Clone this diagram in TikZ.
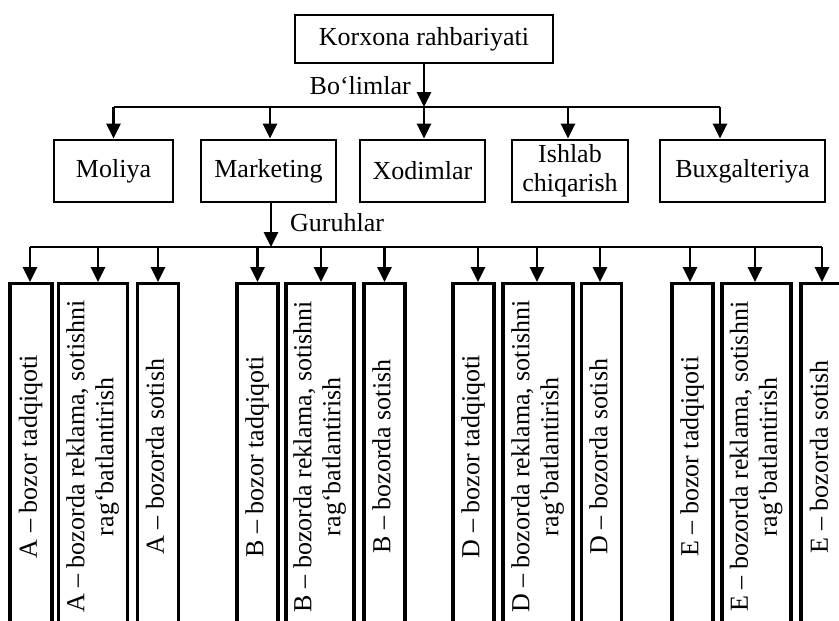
\documentclass[tikz,border=0pt]{standalone}
\usepackage{fontspec}
\setmainfont{Liberation Serif}
\usetikzlibrary{arrows.meta,calc}
\newcommand{\vtext}[1]{\rotatebox{90}{\begin{tabular}{@{}c@{}}#1\end{tabular}}}
\begin{document}
\begin{tikzpicture}[x=1pt,y=-1pt,
  every node/.style={font=\fontsize{26}{29}\selectfont},
  box/.style={draw, line width=2.8pt, inner sep=0pt, align=center, minimum height=62},
  gbox/.style={draw, line width=3.2pt, inner sep=0pt, anchor=north, minimum height=346},
  arr/.style={line width=2.8pt, -{Triangle[length=15pt,width=14pt]}},
  bar/.style={line width=2.8pt},
  lbl/.style={inner sep=0pt}]
\useasboundingbox (0,0) rectangle (839,621);
\clip (0,0) rectangle (839,621);

% top
\node[box, minimum width=258, minimum height=48] (top) at (424,39) {Korxona rahbariyati};
\node[lbl, anchor=east] (bol) at (411,86) {Bo‘limlar};

% departments
\node[box, minimum width=119] (mol) at (113.5,171) {Moliya};
\node[box, minimum width=135] (mkt) at (268.5,171) {Marketing};
\node[box, minimum width=125] (xod) at (422.5,171) {Xodimlar};
\node[box, minimum width=116] (ish) at (570,171) {Ishlab\\chiqarish};
\node[box, minimum width=165] (bux) at (742.5,171) {Buxgalteriya};

\coordinate (b1) at (113.5,107);
\coordinate (b2) at (270,107);
\coordinate (b3) at (424,107);
\coordinate (b4) at (568,107);
\coordinate (b5) at (720,107);

\draw[arr] (top.south) -- (b3);
\draw[bar] (b1) -- (b5);
\draw[arr] (b1) -- (b1 |- mol.north);
\draw[arr] (b2) -- (b2 |- mkt.north);
\draw[arr] (b3) -- (b3 |- xod.north);
\draw[arr] (b4) -- (b4 |- ish.north);
\draw[arr] (b5) -- (b5 |- bux.north);

% groups
\node[lbl, anchor=west] (gur) at (290,223) {Guruhlar};

\node[gbox, minimum width=42] (a1) at (31,282)    {\vtext{A – bozor tadqiqoti}};
\node[gbox, minimum width=69] (a2) at (93,282)    {\vtext{A – bozorda reklama, sotishni\\rag‘batlantirish}};
\node[gbox, minimum width=41] (a3) at (158,282)   {\vtext{A – bozorda sotish}};
\node[gbox, minimum width=41] (p1) at (257.5,282) {\vtext{B – bozor tadqiqoti}};
\node[gbox, minimum width=68] (p2) at (320,282)   {\vtext{B – bozorda reklama, sotishni\\rag‘batlantirish}};
\node[gbox, minimum width=41] (p3) at (384.5,282) {\vtext{B – bozorda sotish}};
\node[gbox, minimum width=41] (d1) at (473.5,282) {\vtext{D – bozor tadqiqoti}};
\node[gbox, minimum width=70] (d2) at (538,282)   {\vtext{D – bozorda reklama, sotishni\\rag‘batlantirish}};
\node[gbox, minimum width=40] (d3) at (601.5,282) {\vtext{D – bozorda sotish}};
\node[gbox, minimum width=41] (e1) at (692.5,282) {\vtext{E – bozor tadqiqoti}};
\node[gbox, minimum width=69] (e2) at (756.5,282) {\vtext{E – bozorda reklama, sotishni\\rag‘batlantirish}};
\node[gbox, minimum width=42] (e3) at (822,282)   {\vtext{E – bozorda sotish}};

\coordinate (g0) at (271,247);
\coordinate (ga1) at (30,247);
\coordinate (ga2) at (98,247);
\coordinate (ga3) at (158,247);
\coordinate (gp1) at (257.5,247);
\coordinate (gp2) at (321,247);
\coordinate (gp3) at (384.5,247);
\coordinate (gd1) at (478,247);
\coordinate (gd2) at (537,247);
\coordinate (gd3) at (600,247);
\coordinate (ge1) at (690,247);
\coordinate (ge2) at (755,247);
\coordinate (ge3) at (822,247);

\draw[arr] (mkt.south -| g0) -- (g0);
\draw[bar] (ga1) -- (ge3);
\foreach \g/\n in {ga1/a1,ga2/a2,ga3/a3,gp1/p1,gp2/p2,gp3/p3,gd1/d1,gd2/d2,gd3/d3,ge1/e1,ge2/e2,ge3/e3}
  \draw[arr] (\g) -- (\g |- \n.north);
\end{tikzpicture}
\end{document}
